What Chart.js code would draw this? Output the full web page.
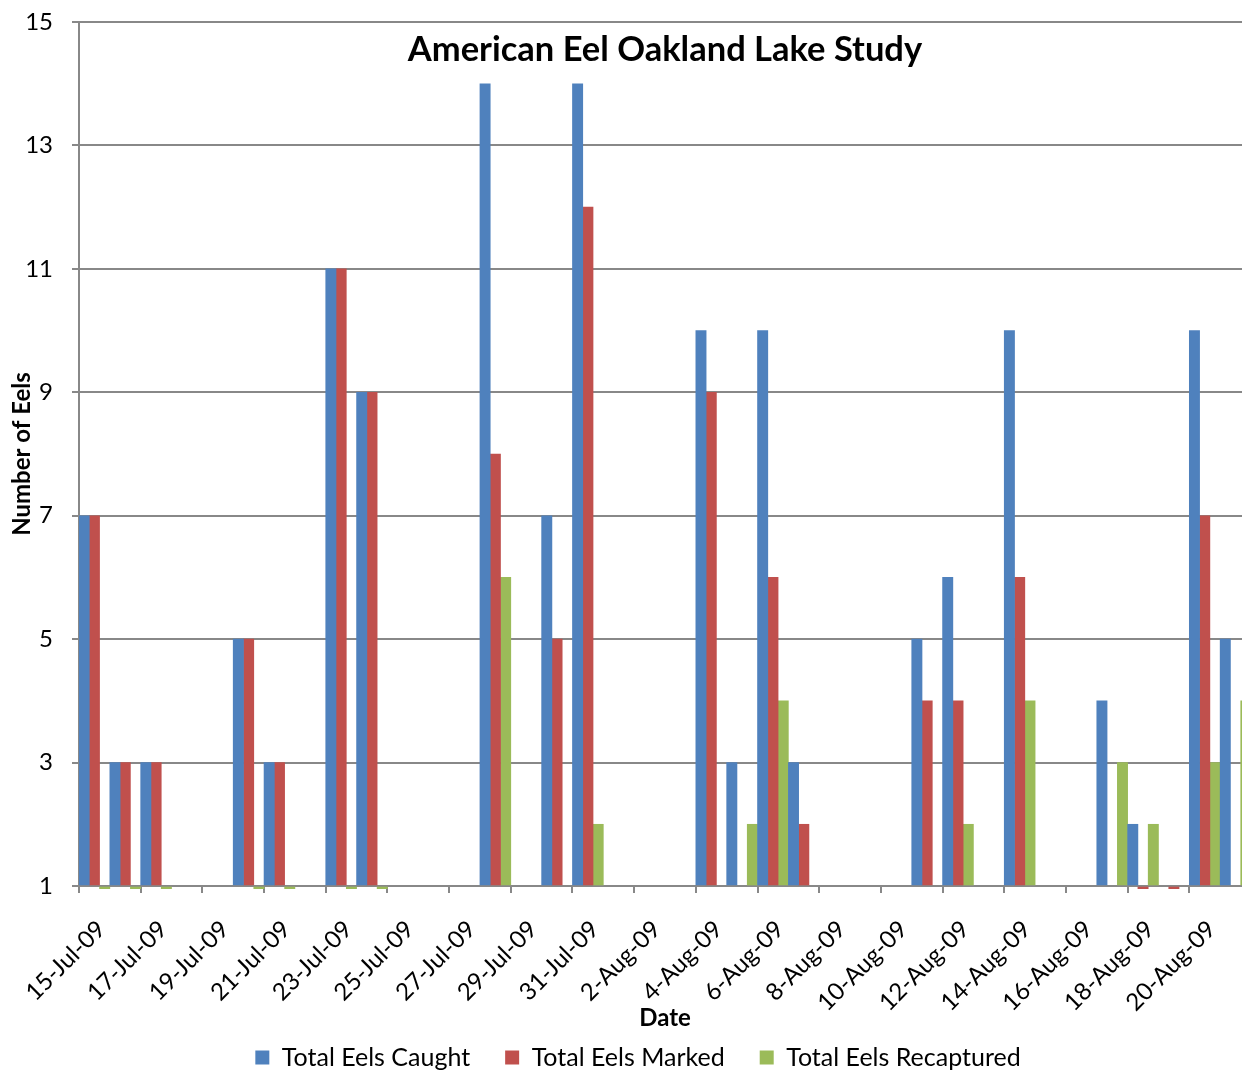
<!DOCTYPE html>
<html>
<head>
<meta charset="utf-8">
<script src="https://cdn.jsdelivr.net/npm/chart.js@4.4.1/dist/chart.umd.min.js"></script>
<style>
  html, body { margin: 0; padding: 0; background: #fff; overflow: hidden; }
  #wrap { width: 1276px; height: 1080px; }
</style>
</head>
<body>
<div id="wrap"><canvas id="c" width="1276" height="1080"></canvas></div>
<script>
const dates = ['15-Jul-09','16-Jul-09','17-Jul-09','18-Jul-09','19-Jul-09','20-Jul-09','21-Jul-09','22-Jul-09',
  '23-Jul-09','24-Jul-09','25-Jul-09','26-Jul-09','27-Jul-09','28-Jul-09','29-Jul-09','30-Jul-09','31-Jul-09',
  '1-Aug-09','2-Aug-09','3-Aug-09','4-Aug-09','5-Aug-09','6-Aug-09','7-Aug-09','8-Aug-09','9-Aug-09','10-Aug-09',
  '11-Aug-09','12-Aug-09','13-Aug-09','14-Aug-09','15-Aug-09','16-Aug-09','17-Aug-09','18-Aug-09','19-Aug-09',
  '20-Aug-09','21-Aug-09'];
const totalCaught = [7,3,3,null,null,5,3,null,11,9,null,null,null,14,null,7,14,null,null,null,10,3,10,3,
  null,null,null,5,6,null,10,null,null,4,2,null,10,5];
const totalMarked = [7,3,3,null,null,5,3,null,11,9,null,null,null,8,null,5,12,null,null,null,9,null,6,2,
  null,null,null,4,4,null,6,null,null,null,0,0,7,null];
const totalRecaptured = [0,0,0,null,null,0,0,null,0,0,null,null,null,6,null,null,2,null,null,null,null,2,4,null,
  null,null,null,null,2,null,4,null,null,3,2,null,3,4];
const yTicks = [1,3,5,7,9,11,13,15];

const FONT = 'Lato';
const GRID = '#888888';

const ds = (label, data, color) => ({
  label, data, backgroundColor: color, borderWidth: 0, base: 1,
  categoryPercentage: 1.0, barPercentage: 1.0,
  clip: {left: 0, top: 0, right: 0, bottom: 3}
});

new Chart(document.getElementById('c'), {
  type: 'bar',
  data: {
    labels: dates,
    datasets: [
      ds('Total Eels Caught', totalCaught, '#4F81BD'),
      ds('Total Eels Marked', totalMarked, '#C0504D'),
      ds('Total Eels Recaptured', totalRecaptured, '#9BBB59')
    ]
  },
  options: {
    responsive: false,
    animation: false,
    layout: { padding: { top: 0, right: 0, bottom: 0, left: 0 } },
    plugins: {
      title: {
        display: true,
        text: 'American Eel Oakland Lake Study',
        fullSize: false,
        color: '#000',
        font: { family: FONT, size: 34.5, weight: 'bold', lineHeight: 1.2 },
        padding: { top: 29.3, bottom: -48.7 }
      },
      legend: {
        position: 'bottom',
        labels: {
          color: '#000',
          font: { family: FONT, size: 25 },
          boxWidth: 14, boxHeight: 14, padding: 35
        }
      },
      tooltip: { enabled: false }
    },
    scales: {
      x: {
        type: 'category',
        offset: true,
        grid: {
          offset: true, drawOnChartArea: false, drawTicks: true, tickLength: 7,
          lineWidth: 2,
          tickColor: (c) => (c.index !== undefined && c.index % 2 === 0) ? GRID : 'rgba(0,0,0,0)'
        },
        border: { display: true, color: GRID, width: 2 },
        ticks: {
          autoSkip: false, minRotation: 45, maxRotation: 45, labelOffset: 7, padding: 22,
          color: '#000', font: { family: FONT, size: 24 },
          callback: function(v, i) { return i % 2 === 0 ? dates[i] : ''; }
        },
        title: {
          display: true, text: 'Date', color: '#000',
          font: { family: FONT, size: 24, weight: 'bold', lineHeight: 1.2 },
          padding: { top: 0, bottom: -22.4 }
        },
        afterFit: (s) => {
          s.height = 124; s.paddingLeft = 0; s.paddingRight = 25;
          s._computeLabelArea = () => undefined;
        }
      },
      y: {
        min: 1, max: 15, beginAtZero: false,
        grid: { color: GRID, lineWidth: 2, tickLength: 7, drawTicks: true },
        border: { display: true, color: GRID, width: 2 },
        ticks: {
          stepSize: 2, padding: 19, color: '#000', font: { family: FONT, size: 24 },
          callback: (v) => yTicks.includes(v) ? String(v) : ''
        },
        title: {
          display: true, text: 'Number of Eels', color: '#000',
          font: { family: FONT, size: 24, weight: 'bold', lineHeight: 1.2 },
          padding: { top: 7.6, bottom: 0 }
        },
        afterFit: (s) => { s.width = 79; s.paddingTop = 0; s.paddingBottom = 0; }
      }
    }
  }
});
</script>
</body>
</html>
